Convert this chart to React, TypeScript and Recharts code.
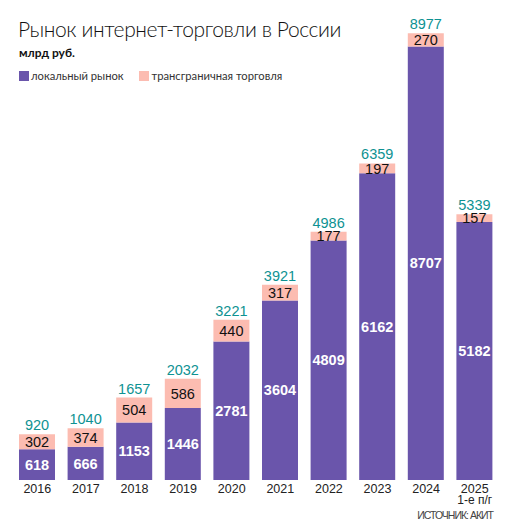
import { Bar, BarChart, LabelList, XAxis, YAxis } from "recharts";

const years = ["2016", "2017", "2018", "2019", "2020", "2021", "2022", "2023", "2024", "2025"];
const subLabels = ["", "", "", "", "", "", "", "", "", "1-е п/г"];
const localMarket = [618, 666, 1153, 1446, 2781, 3604, 4809, 6162, 8707, 5182];
const crossBorder = [302, 374, 504, 586, 440, 317, 177, 197, 270, 157];
const totals = [920, 1040, 1657, 2032, 3221, 3921, 4986, 6359, 8977, 5339];

const PURPLE = "#6a55ab";
const PINK = "#fcbcb1";
const TEAL = "#0e9292";
const FONT = "Lato, 'Open Sans', sans-serif";
const NARROW = "'Liberation Sans Narrow', 'Arial Narrow', sans-serif";

const data = years.map((year, i) => ({
  year,
  sub: subLabels[i],
  local: localMarket[i],
  cross: crossBorder[i],
  total: totals[i],
}));

function YearTick({ x, y, payload, index }: any) {
  const sub = subLabels[index ?? 0];
  return (
    <g transform={`translate(${x},${y})`}>
      <text x={0} y={5} textAnchor="middle" fill="#222" fontSize={12.5} fontFamily={NARROW}>
        {payload.value}
      </text>
      {sub ? (
        <text x={0} y={16} textAnchor="middle" fill="#222" fontSize={12} fontFamily={NARROW}>
          {sub}
        </text>
      ) : null}
    </g>
  );
}

export default function App() {
  return (
    <div
      style={{
        position: "absolute",
        left: 0,
        top: 0,
        width: 511,
        height: 524,
        background: "#fff",
        fontFamily: FONT,
      }}
    >
      <div
        style={{
          position: "absolute",
          left: 18,
          top: 16,
          fontSize: 21,
          fontWeight: 300,
          color: "#111",
          letterSpacing: -0.4,
          whiteSpace: "nowrap",
        }}
      >
        Рынок интернет-торговли в России
      </div>
      <div
        style={{
          position: "absolute",
          left: 19,
          top: 45,
          fontSize: 12,
          fontWeight: 700,
          color: "#111",
        }}
      >
        млрд руб.
      </div>
      <div
        style={{
          position: "absolute",
          left: 19,
          top: 69,
          display: "flex",
          alignItems: "center",
          fontSize: 11.2,
          color: "#333",
          whiteSpace: "nowrap",
        }}
      >
        <span style={{ width: 10, height: 10, background: PURPLE, marginRight: 2 }} />
        <span>локальный рынок</span>
        <span style={{ width: 10, height: 10, background: PINK, marginLeft: 15, marginRight: 3 }} />
        <span>трансграничная торговля</span>
      </div>

      <BarChart
        width={511}
        height={524}
        data={data}
        margin={{ top: 32, right: 12, bottom: 0, left: 13 }}
        barSize={36}
      >
        <XAxis
          dataKey="year"
          axisLine={false}
          tickLine={false}
          height={44}
          interval={0}
          tick={<YearTick />}
        />
        <YAxis hide domain={[0, 9000]} />
        <Bar dataKey="local" stackId="a" fill={PURPLE} isAnimationActive={false}>
          <LabelList
            dataKey="local"
            position="center"
            fill="#fff"
            fontSize={14.5}
            fontWeight={700}
            fontFamily={NARROW}
          />
        </Bar>
        <Bar dataKey="cross" stackId="a" fill={PINK} isAnimationActive={false}>
          <LabelList
            dataKey="cross"
            position="center"
            fill="#111"
            fontSize={14.5}
            fontFamily={NARROW}
          />
          <LabelList
            dataKey="total"
            position="top"
            offset={4}
            fill={TEAL}
            fontSize={14.5}
            fontFamily={NARROW}
          />
        </Bar>
      </BarChart>

      <div
        style={{
          position: "absolute",
          right: 18,
          top: 509,
          fontSize: 10.5,
          letterSpacing: -1,
          fontFamily: NARROW,
          color: "#444",
          whiteSpace: "nowrap",
        }}
      >
        ИСТОЧНИК: АКИТ
      </div>
    </div>
  );
}
